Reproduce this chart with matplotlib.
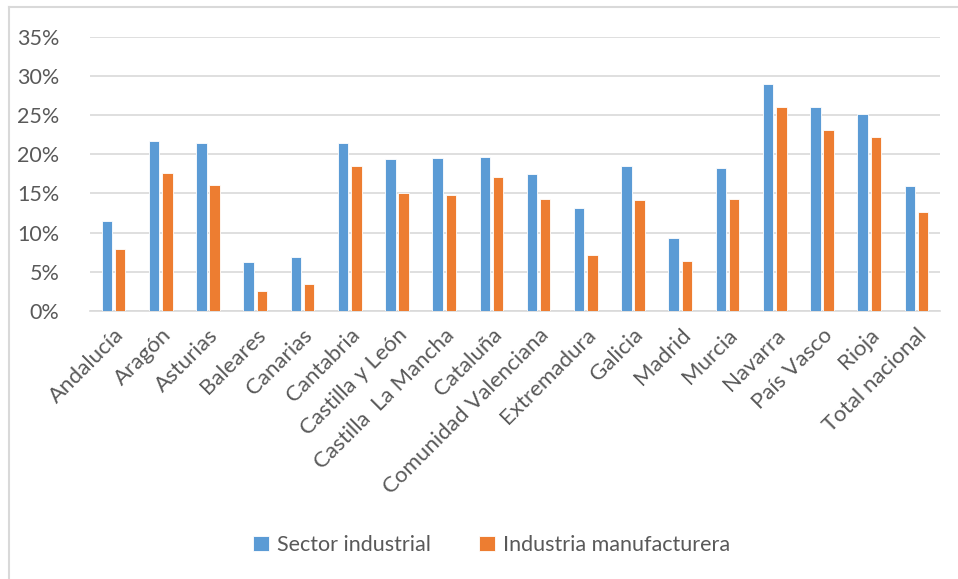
import numpy as np
import matplotlib.pyplot as plt
from matplotlib.lines import Line2D
from matplotlib.ticker import PercentFormatter

regiones = ['Andalucía', 'Aragón', 'Asturias', 'Baleares', 'Canarias', 'Cantabria',
            'Castilla y León', 'Castilla  La Mancha', 'Cataluña', 'Comunidad Valenciana',
            'Extremadura', 'Galicia', 'Madrid', 'Murcia', 'Navarra', 'País Vasco',
            'Rioja', 'Total nacional']
sector_industrial = [11.5, 21.7, 21.4, 6.25, 6.9, 21.5, 19.4, 19.5, 19.6, 17.5,
                     13.1, 18.45, 9.3, 18.2, 29.0, 26.0, 25.2, 16.0]
industria_manuf = [7.9, 17.55, 16.1, 2.6, 3.4, 18.5, 15.1, 14.85, 17.05, 14.25,
                   7.15, 14.15, 6.4, 14.35, 26.05, 23.1, 22.25, 12.6]

plt.rcParams['font.family'] = ['Lato', 'DejaVu Sans']
gris = '#595959'
linea = '#D9D9D9'

fig = plt.figure(figsize=(9.58, 5.79), dpi=100)
ax = fig.add_axes([90/958, 1-311/579, 850/958, (311-36.7)/579])

x = np.arange(len(regiones))
w = 0.22
ax.bar(x - 0.14, sector_industrial, w, color='#5B9BD5', edgecolor='white',
       linewidth=0.6, label='Sector industrial', zorder=3)
ax.bar(x + 0.14, industria_manuf, w, color='#ED7D31', edgecolor='white',
       linewidth=0.6, label='Industria manufacturera', zorder=3)

ax.set_xlim(-0.5, len(regiones) - 0.5)
ax.set_ylim(0, 35)
ax.set_yticks(np.arange(0, 36, 5))
ax.yaxis.set_major_formatter(PercentFormatter(decimals=0))
ax.grid(axis='y', color=linea, linewidth=1.2, zorder=0)
for s in ['top', 'right', 'left']:
    ax.spines[s].set_visible(False)
ax.spines['bottom'].set_color(linea)
ax.spines['bottom'].set_linewidth(1.2)
ax.tick_params(length=0, labelsize=16, labelcolor=gris)
ax.tick_params(axis='y', pad=22, labelsize=15.5)
ax.tick_params(axis='x', pad=10)
ax.set_xticks(x)
ax.set_xticklabels(regiones, rotation=45, ha='right', rotation_mode='anchor')

fig.legend(loc='center', bbox_to_anchor=(0.513, 1-545/579), ncol=2, frameon=False,
           fontsize=15.5, labelcolor=gris, handlelength=0.75, handleheight=0.75,
           columnspacing=2.2, handletextpad=0.4)

# marco del gráfico (sólo visible arriba e izquierda)
fig.add_artist(Line2D([8.5/958, 8.5/958], [0, 1-7/579], color=linea, lw=1.5))
fig.add_artist(Line2D([8.5/958, 1], [1-7/579, 1-7/579], color=linea, lw=1.5))

fig.savefig('out.png', dpi=100)
